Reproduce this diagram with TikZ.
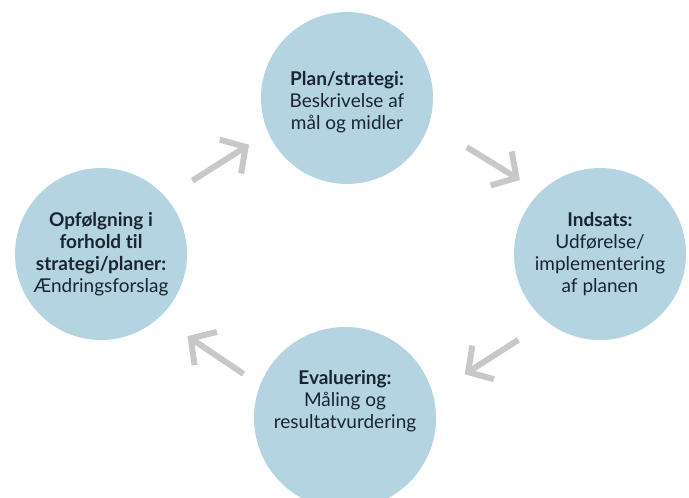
\documentclass[tikz,border=0pt]{standalone}
\usepackage{fontspec}
\setmainfont[Ligatures=NoCommon]{Lato}
\usetikzlibrary{calc, arrows.meta}
\definecolor{phaseblue}{HTML}{B3D4E0}
\definecolor{flowgray}{HTML}{C8C8C8}
\definecolor{textnavy}{HTML}{1A2432}
\tikzset{
    phase/.style={
        circle, fill=phaseblue, draw=none,
        minimum size=172pt, inner sep=0pt,
        align=center, text=textnavy,
        font=\fontsize{19}{22}\selectfont
    },
    phasetext/.style={
        align=center, text=textnavy,
        font=\fontsize{19}{22}\selectfont
    },
    flow/.style={
        draw=flowgray, line width=6pt,
        -{Straight Barb[length=18pt, width=40pt]}
    }
}

\begin{document}
\begin{tikzpicture}[x=1pt, y=-1pt]
        \useasboundingbox (0,0) rectangle (689,498);
        \clip (0,0) rectangle (689,498);

        \node[phase, label={[phasetext, yshift=-4pt]center:{\textbf{Plan/strategi:}\\Beskrivelse af\\mål og midler}}]
            (top) at (347,98) {};
        \node[phase] (rgt) at (600,254) {\textbf{Indsats:}\\Udførelse/\\implementering\\af planen};
        \node[phase, minimum size=182pt,
            label={[phasetext, yshift=17pt]center:{\textbf{Evaluering:}\\Måling og\\resultatvurdering}}]
            (bot) at (345,418) {};
        \node[phase] (lft) at (101,254) {\textbf{Opfølgning i}\\\textbf{forhold til}\\\textbf{strategi/planer:}\\Ændringsforslag};

        % arrows sit beside the line between the centres
        \draw[flow] ($(lft)!0.40!(top)!13pt!90:(top)$) -- ($(lft)!0.63!(top)!13pt!90:(top)$);
        \draw[flow] ($(top)!0.43!(rgt)!21pt!90:(rgt)$) -- ($(top)!0.64!(rgt)!21pt!90:(rgt)$);
        \draw[flow] ($(rgt)!0.38!(bot)!28pt!90:(bot)$) -- ($(rgt)!0.59!(bot)!28pt!90:(bot)$);
        \draw[flow] ($(bot)!0.37!(lft)!20pt!90:(lft)$) -- ($(bot)!0.60!(lft)!20pt!90:(lft)$);
\end{tikzpicture}
\end{document}
